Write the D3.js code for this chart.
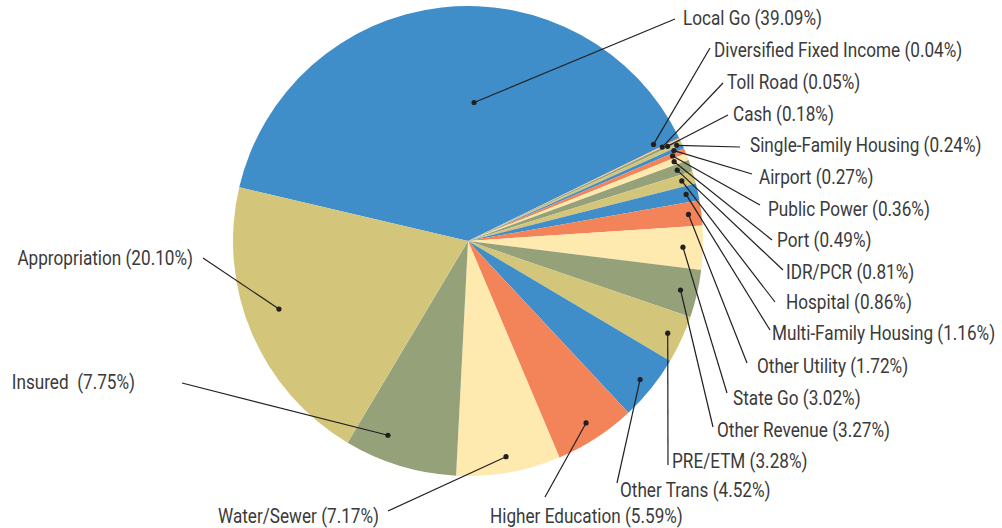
<!DOCTYPE html>
<html lang="en">
<head>
<meta charset="utf-8">
<title>Sector breakdown</title>
<script src="https://cdn.jsdelivr.net/npm/d3@7/dist/d3.min.js"></script>
<style>
  body { margin: 0; background: #fff; }
  svg text { font-family: Roboto, "DejaVu Sans Condensed", sans-serif; }
</style>
</head>
<body>
<script>
// slice data, clockwise from Local Go
var categories = ["Local Go", "Diversified Fixed Income", "Toll Road", "Cash", "Single-Family Housing",
                  "Airport", "Public Power", "Port", "IDR/PCR", "Hospital", "Multi-Family Housing",
                  "Other Utility", "State Go", "Other Revenue", "PRE/ETM", "Other Trans",
                  "Higher Education", "Water/Sewer", "Insured", "Appropriation"];
var shares = [39.09, 0.04, 0.05, 0.18, 0.24, 0.27, 0.36, 0.49, 0.81, 0.86, 1.16,
              1.72, 3.02, 3.27, 3.28, 4.52, 5.59, 7.17, 7.75, 20.10];

var palette = ["#3f8ec9", "#f3845a", "#fee9ae", "#95a179", "#d3c579"];

// label layout: [text x, text y, line end x, line end y, anchor]
var labelLayout = [
  [683, 18, 675, 19, "start"],
  [714, 50, 710, 48, "start"],
  [727, 82, 723, 83, "start"],
  [733, 114, 728, 115, "start"],
  [750, 145, 740, 147, "start"],
  [759, 177, 752, 174, "start"],
  [768, 209, 760, 205, "start"],
  [777, 240, 772, 240, "start"],
  [786, 272, 783, 270, "start"],
  [786, 302, 775, 302, "start"],
  [772, 333, 770, 330, "start"],
  [757, 366, 747, 363, "start"],
  [733, 398, 727, 393, "start"],
  [717, 430, 713, 427, "start"],
  [672, 461, 668, 465, "start"],
  [620, 490, 617, 483, "start"],
  [490, 516, 545, 497, "start"],
  [379, 516, 388, 511, "end"],
  [135, 382, 182, 383, "end"],
  [193, 258, 203, 258, "end"]
];
// where the leader dot sits, as a fraction of the radius
var dotRadius = [0.59, 0.89, 0.918, 0.94, 0.977, 0.957, 0.943, 0.94, 0.94, 0.945, 0.949,
                 0.945, 0.915, 0.928, 0.936, 0.94, 0.923, 0.932, 0.894, 0.855];
// a few dots are not on the slice's middle angle (degrees)
var dotAngle = { 0: 2.5, 1: 62.5, 18: 202.4, 19: 250.2 };

var w = 1002, h = 528;
var cx = 468, cy = 241, r = 235;
var start = -76.8 * Math.PI / 180;
var squeeze = 0.88; // condensed look

var svg = d3.select("body").append("svg")
    .attr("width", w)
    .attr("height", h);

var color = d3.scaleOrdinal().domain(d3.range(categories.length)).range(palette);

var pie = d3.pie()
    .sort(null)
    .value(function(d) { return d; })
    .startAngle(start)
    .endAngle(start + 2 * Math.PI);

var arcs = pie(shares);
var arc = d3.arc().innerRadius(0).outerRadius(r);

var g = svg.append("g").attr("transform", "translate(" + cx + "," + cy + ")");

g.selectAll("path")
  .data(arcs)
  .enter()
  .append("path")
  .attr("d", arc)
  .attr("fill", function(d, i) { return color(i); });

function dotPos(d, i) {
  var a = dotAngle[i] !== undefined ? dotAngle[i] * Math.PI / 180 : (d.startAngle + d.endAngle) / 2;
  var rr = dotRadius[i] * r;
  return [cx + rr * Math.sin(a), cy - rr * Math.cos(a)];
}

var labels = svg.append("g");

labels.selectAll("line")
  .data(arcs)
  .enter()
  .append("line")
  .attr("x1", function(d, i) { return dotPos(d, i)[0]; })
  .attr("y1", function(d, i) { return dotPos(d, i)[1]; })
  .attr("x2", function(d, i) { return labelLayout[i][2]; })
  .attr("y2", function(d, i) { return labelLayout[i][3]; })
  .attr("stroke", "#231f20")
  .attr("stroke-width", 1.2);

labels.selectAll("circle")
  .data(arcs)
  .enter()
  .append("circle")
  .attr("cx", function(d, i) { return dotPos(d, i)[0]; })
  .attr("cy", function(d, i) { return dotPos(d, i)[1]; })
  .attr("r", 2.6)
  .attr("fill", "#231f20");

labels.selectAll("text")
  .data(arcs)
  .enter()
  .append("text")
  .attr("transform", function(d, i) {
    return "translate(" + labelLayout[i][0] + "," + labelLayout[i][1] + ") scale(" + squeeze + ",1)";
  })
  .attr("dy", "0.36em")
  .attr("text-anchor", function(d, i) { return labelLayout[i][4]; })
  .attr("fill", "#3a3a3a")
  .attr("font-size", "19.5px")
  .style("white-space", "pre")
  .text(function(d, i) {
    var c = categories[i];
    return c + (c === "Insured" ? "  (" : " (") + shares[i].toFixed(2) + "%)";
  });
</script>
</body>
</html>
